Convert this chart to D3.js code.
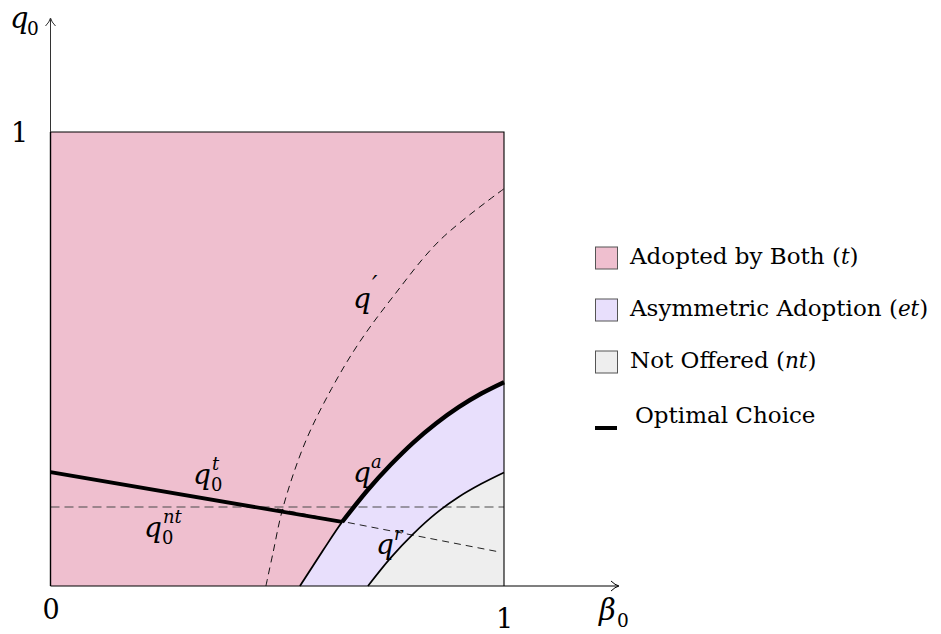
<!DOCTYPE html>
<html>
<head>
<meta charset="utf-8">
<script src="https://cdn.jsdelivr.net/npm/d3@7"></script>
<style>
  html, body { margin: 0; padding: 0; background: #fff; }
  svg { display: block; }
  text { font-family: "DejaVu Serif", serif; fill: #000; }
</style>
</head>
<body>
<svg id="chart" width="941" height="634"></svg>
<script>
// ---------- data ----------
// q^a : boundary between "Adopted by Both" and "Asymmetric Adoption"
const qaBeta = [0.55, 0.60, 0.643, 0.70, 0.75, 0.80, 0.85, 0.90, 0.95, 1.0];
const qaVal  = [0.00, 0.077, 0.141, 0.212, 0.267, 0.316, 0.358, 0.394, 0.424, 0.449];
// lower boundary of "Not Offered"
const ntBeta = [0.70, 0.75, 0.80, 0.85, 0.90, 0.95, 1.0];
const ntVal  = [0.00, 0.062, 0.115, 0.160, 0.196, 0.225, 0.250];
// q' (dashed)
const qpBeta = [0.475, 0.49, 0.513, 0.561, 0.62, 0.68, 0.755, 0.859, 1.0];
const qpVal  = [0.00, 0.07, 0.174, 0.315, 0.435, 0.535, 0.637, 0.762, 0.875];
// q0^t (thick, optimal) line
const qtBeta = [0.0, 0.643];
const qtVal  = [0.251, 0.141];
// q^r (dashed) line
const qrBeta = [0.50, 0.99];
const qrVal  = [0.170, 0.075];
// q0^nt horizontal level
const qntLevel = 0.174;
// optimal choice switches to q^a at this beta
const switchBeta = 0.643;

const tickValues = [0, 1];
const legendLabels = [
  {pre: "Adopted by Both (", it: "t", post: ")"},
  {pre: "Asymmetric Adoption (", it: "et", post: ")"},
  {pre: "Not Offered (", it: "nt", post: ")"}
];
const legendLine = "Optimal Choice";
const colors = {t: "#EFBFCF", et: "#E8DFFC", nt: "#EEEEEE"};

// ---------- scales ----------
const svg = d3.select("#chart");
const x = d3.scaleLinear().domain([0, 1]).range([50.5, 504]);
const y = d3.scaleLinear().domain([0, 1]).range([586, 132]);

const zip = (bs, vs) => bs.map((b, i) => ({b, v: vs[i]}));
const qa = zip(qaBeta, qaVal);
const nt = zip(ntBeta, ntVal);
const qp = zip(qpBeta, qpVal);
const qt = zip(qtBeta, qtVal);
const qr = zip(qrBeta, qrVal);

const smooth = d3.curveCatmullRom.alpha(0.5);
const line = d3.line().x(d => x(d.b)).y(d => y(d.v)).curve(smooth);
const lineLin = d3.line().x(d => x(d.b)).y(d => y(d.v));
const area = d3.area().x(d => x(d.b)).y0(y(0)).y1(d => y(d.v)).curve(smooth);

// regions
svg.append("rect")
  .attr("x", x(0)).attr("y", y(1))
  .attr("width", x(1) - x(0)).attr("height", y(0) - y(1))
  .attr("fill", colors.t);
svg.append("path").datum(qa).attr("d", area).attr("fill", colors.et);
svg.append("path").datum(nt).attr("d", area).attr("fill", colors.nt);

// dashed helper lines
svg.append("path").datum([{b: 0, v: qntLevel}, {b: 1, v: qntLevel}])
  .attr("d", lineLin).attr("fill", "none")
  .attr("stroke", "#4a4a4a").attr("stroke-width", 1.2).attr("stroke-dasharray", "9,5");
svg.append("path").datum(qr).attr("d", lineLin).attr("fill", "none")
  .attr("stroke", "#222").attr("stroke-width", 1).attr("stroke-dasharray", "7,5");
svg.append("path").datum(qp).attr("d", line).attr("fill", "none")
  .attr("stroke", "#111").attr("stroke-width", 1).attr("stroke-dasharray", "7,5");

// solid boundaries
svg.append("path").datum(nt).attr("d", line).attr("fill", "none")
  .attr("stroke", "#000").attr("stroke-width", 1.7);
svg.append("path").datum(qa).attr("d", line).attr("fill", "none")
  .attr("stroke", "#000").attr("stroke-width", 1.8);
svg.append("path").datum(qa.filter(d => d.b >= switchBeta)).attr("d", line).attr("fill", "none")
  .attr("stroke", "#000").attr("stroke-width", 4.4).attr("stroke-linecap", "butt");
svg.append("path").datum(qt).attr("d", lineLin).attr("fill", "none")
  .attr("stroke", "#000").attr("stroke-width", 3.8);

// box edges (top / right)
svg.append("path")
  .attr("d", `M${x(0)},${y(1)}H${x(1)}V${y(0)}`)
  .attr("fill", "none").attr("stroke", "#000").attr("stroke-width", 1.1);

// axes
const xAxis = d3.axisBottom(x).tickValues(tickValues).tickSize(0).tickFormat(d3.format("d"));
const gx = svg.append("g").attr("transform", `translate(0,${y(0)})`).call(xAxis);
gx.select(".domain").remove();
gx.selectAll("text").attr("font-family", "DejaVu Serif").attr("font-size", 27)
  .attr("fill", "#000").attr("dy", null)
  .attr("y", d => d === 0 ? 33 : 42);
gx.selectAll(".tick").filter(d => d === 0).attr("transform", `translate(${x(0) + 0.5},0)`);

const yAxis = d3.axisLeft(y).tickValues([1]).tickSize(0).tickFormat(d3.format("d"));
const gy = svg.append("g").attr("transform", `translate(${x(0)},0)`).call(yAxis);
gy.select(".domain").remove();
gy.selectAll("text").attr("font-family", "DejaVu Serif").attr("font-size", 27)
  .attr("fill", "#000").attr("x", -31).attr("dy", "0.36em").attr("text-anchor", "middle");

// axis lines with arrows
svg.append("line").attr("x1", x(0)).attr("y1", y(0)).attr("x2", x(0)).attr("y2", 19)
  .attr("stroke", "#333").attr("stroke-width", 1);
svg.append("line").attr("x1", x(0)).attr("y1", y(0)).attr("x2", 618).attr("y2", y(0))
  .attr("stroke", "#000").attr("stroke-width", 1.2);
svg.append("line").attr("x1", x(0)).attr("y1", y(0)).attr("x2", x(0)).attr("y2", y(1))
  .attr("stroke", "#000").attr("stroke-width", 1.4);
svg.append("path")
  .attr("d", `M${x(0) - 5},26 Q${x(0) - 1},22 ${x(0)},18 Q${x(0) + 1},22 ${x(0) + 5},26`)
  .attr("fill", "none").attr("stroke", "#333").attr("stroke-width", 1);
svg.append("path")
  .attr("d", `M611,${y(0) - 5} Q615,${y(0) - 1} 619,${y(0)} Q615,${y(0) + 1} 611,${y(0) + 5}`)
  .attr("fill", "none").attr("stroke", "#000").attr("stroke-width", 1);

// math label as a single text element with positioned tspans
function mathLabel(px, py, base, sub, sup, size, opts = {}) {
  const t = svg.append("text").attr("x", px).attr("y", py).attr("font-size", size);
  t.append("tspan").style("font-style", "italic").text(base);
  const s = size * 0.64;
  if (sub) {
    t.append("tspan").attr("x", px + opts.subDx).attr("y", py + size * 0.25)
      .attr("font-size", s).style("font-style", "normal").text(sub);
  }
  if (sup) {
    t.append("tspan").attr("x", px + opts.supDx).attr("y", py - size * (opts.supUp || 0.5))
      .attr("font-size", opts.supSize || s).style("font-style", "italic").text(sup);
  }
  return t;
}

mathLabel(10, 28, "q", "0", null, 29, {subDx: 17});
mathLabel(599, 620, "β", "0", null, 29, {subDx: 18});

// curve labels
mathLabel(193, 484, "q", "0", "t", 28, {subDx: 18, supDx: 19});
mathLabel(144, 537, "q", "0", "nt", 28, {subDx: 18, supDx: 19});
mathLabel(353, 482, "q", null, "a", 28, {supDx: 18});
mathLabel(376, 554, "q", null, "r", 28, {supDx: 18});
mathLabel(353, 308, "q", null, "′", 28, {supDx: 19, supSize: 24, supUp: 0.55});

// legend
const legendY = [258, 310, 362];
legendLabels.forEach((lab, i) => {
  const key = ["t", "et", "nt"][i];
  svg.append("rect").attr("x", 595.5).attr("y", legendY[i] - 11).attr("width", 22).attr("height", 22)
    .attr("fill", colors[key]).attr("stroke", "#555").attr("stroke-width", 1);
  const t = svg.append("text").attr("x", 630).attr("y", legendY[i] + 5.5).attr("font-size", 23);
  t.append("tspan").text(lab.pre);
  t.append("tspan").style("font-style", "italic").attr("font-size", 21.5).text(lab.it);
  t.append("tspan").text(lab.post);
});
svg.append("line").attr("x1", 595).attr("x2", 617).attr("y1", 428).attr("y2", 428)
  .attr("stroke", "#000").attr("stroke-width", 4);
svg.append("text").attr("x", 635).attr("y", 423).attr("font-size", 23).text(legendLine);
</script>
</body>
</html>
